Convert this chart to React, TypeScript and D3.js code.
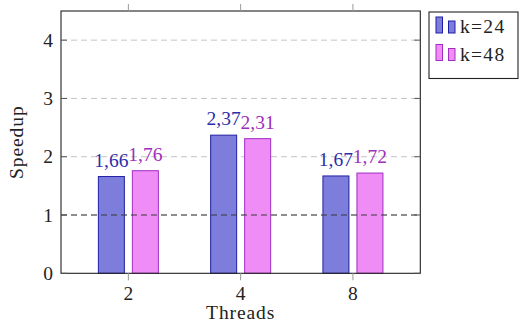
import React from "react";
import * as d3 from "d3";

// Speedup per thread count for two values of k
const threads = ["2", "4", "8"];
const seriesNames = ["k=24", "k=48"];
const speedupK24 = [1.66, 2.37, 1.67];
const speedupK48 = [1.76, 2.31, 1.72];
const yTicks = [0, 1, 2, 3, 4];
const baseline = 1;

const W = 519;
const H = 329;
const plot = { left: 61, top: 11, right: 420.3, bottom: 273.3 };

const FONT = '"Liberation Serif"';
const FS = 19.5;

const styles = [
  { fill: "#7d7ddc", stroke: "#1f1fa3", text: "#2e2eaa" },
  { fill: "#f08cf6", stroke: "#a12ec0", text: "#9d2fbb" },
];

const fmt = (v: number) => v.toFixed(2).replace(".", ",");

function Label(props: {
  x: number;
  y: number;
  anchor?: "start" | "middle" | "end";
  color?: string;
  transform?: string;
  spacing?: number;
  children: React.ReactNode;
}) {
  return (
    <text
      x={props.x}
      y={props.y}
      transform={props.transform}
      textAnchor={props.anchor ?? "start"}
      fontSize={FS}
      fill={props.color ?? "#222"}
      style={{ fontFamily: FONT, letterSpacing: props.spacing ?? 0 }}
    >
      {props.children}
    </text>
  );
}

export default function App() {
  const x = d3
    .scalePoint<string>()
    .domain(threads)
    .range([plot.left, plot.right])
    .padding(0.6);
  const y = d3.scaleLinear().domain([0, 4.5]).range([plot.bottom, plot.top]);

  const barW = 26;
  const offsets = [-17, 17];
  const series = [speedupK24, speedupK48];

  return (
    <svg
      width={W}
      height={H}
      style={{ position: "absolute", left: 0, top: 0, background: "#fff" }}
    >
      {/* horizontal grid */}
      {yTicks.slice(1).map((t) => (
        <line
          key={"g" + t}
          x1={plot.left}
          x2={plot.right}
          y1={y(t)}
          y2={y(t)}
          stroke="#c4c4c4"
          strokeWidth={1}
          strokeDasharray="6 4"
        />
      ))}

      {/* bars */}
      {series.map((vals, si) =>
        vals.map((v, i) => {
          const cx = (x(threads[i]) as number) + offsets[si];
          return (
            <rect
              key={`b${si}-${i}`}
              x={cx - barW / 2}
              y={y(v)}
              width={barW}
              height={y(0) - y(v)}
              fill={styles[si].fill}
              stroke={styles[si].stroke}
              strokeWidth={1}
            />
          );
        })
      )}

      {/* value labels */}
      {series.map((vals, si) =>
        vals.map((v, i) => {
          const cx = (x(threads[i]) as number) + offsets[si];
          return (
            <Label key={`l${si}-${i}`} x={cx} y={y(v) - 10} anchor="middle" color={styles[si].text}>
              {fmt(v)}
            </Label>
          );
        })
      )}

      {/* reference line at speedup 1 */}
      <line
        x1={plot.left}
        x2={plot.right}
        y1={y(baseline)}
        y2={y(baseline)}
        stroke="#3a3a3a"
        strokeWidth={1.2}
        strokeDasharray="6 4"
      />

      {/* frame */}
      <rect
        x={plot.left}
        y={plot.top}
        width={plot.right - plot.left}
        height={plot.bottom - plot.top}
        fill="none"
        stroke="#222"
        strokeWidth={1.1}
      />

      {/* x ticks */}
      {threads.map((t) => (
        <g key={"xt" + t}>
          <line x1={x(t)} x2={x(t)} y1={plot.top - 7} y2={plot.top} stroke="#999" />
          <line x1={x(t)} x2={x(t)} y1={plot.bottom} y2={plot.bottom + 7} stroke="#999" />
          <Label x={x(t) as number} y={plot.bottom + 26.5} anchor="middle">
            {t}
          </Label>
        </g>
      ))}

      {/* y ticks */}
      {yTicks.map((t) => (
        <g key={"yt" + t}>
          <line x1={plot.left} x2={plot.left + 6} y1={y(t)} y2={y(t)} stroke="#555" />
          <line x1={plot.right - 6} x2={plot.right} y1={y(t)} y2={y(t)} stroke="#555" />
          <Label x={plot.left - 8} y={y(t) + 6.5} anchor="end">
            {t}
          </Label>
        </g>
      ))}

      {/* axis titles */}
      <Label x={(plot.left + plot.right) / 2} y={319} anchor="middle" spacing={0.9}>
        Threads
      </Label>
      <Label
        x={0}
        y={0}
        anchor="middle"
        spacing={0.9}
        transform={`translate(23, ${(plot.top + plot.bottom) / 2}) rotate(-90)`}
      >
        Speedup
      </Label>

      {/* legend */}
      <rect x={429} y={12} width={89} height={66.5} fill="#fff" stroke="#222" strokeWidth={1.1} />
      {seriesNames.map((name, si) => {
        const base = 33 + si * 27.5;
        return (
          <g key={"lg" + si}>
            <rect x={436} y={base - 16} width={6.5} height={16} fill={styles[si].fill} stroke={styles[si].stroke} />
            <rect x={448.5} y={base - 12} width={6.5} height={12} fill={styles[si].fill} stroke={styles[si].stroke} />
            <Label x={460} y={base} spacing={1.3}>{name}</Label>
          </g>
        );
      })}
    </svg>
  );
}
